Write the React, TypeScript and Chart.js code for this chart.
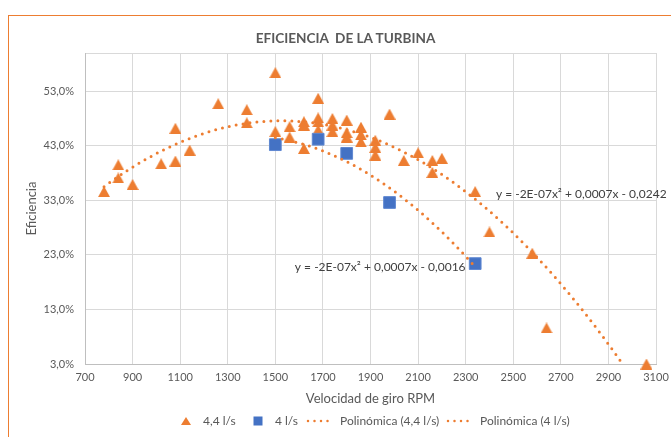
import React, { useEffect, useRef } from 'react';
import { Chart, registerables } from 'chart.js';

Chart.register(...registerables);

// ---------- data ----------
const rpm44 = [780, 840, 840, 900, 1020, 1080, 1080, 1140, 1260, 1380, 1380, 1500, 1500, 1560, 1560, 1620, 1620, 1620, 1680, 1680, 1680, 1680, 1740, 1740, 1740, 1800, 1800, 1800, 1860, 1860, 1860, 1920, 1920, 1920, 1980, 2040, 2100, 2160, 2160, 2200, 2340, 2400, 2580, 2640, 3060];
const eff44 = [0.346, 0.395, 0.371, 0.359, 0.397, 0.402, 0.462, 0.422, 0.507, 0.496, 0.472, 0.564, 0.456, 0.465, 0.446, 0.474, 0.468, 0.425, 0.517, 0.481, 0.474, 0.459, 0.480, 0.468, 0.456, 0.477, 0.454, 0.446, 0.464, 0.450, 0.437, 0.440, 0.427, 0.413, 0.488, 0.403, 0.417, 0.403, 0.381, 0.407, 0.346, 0.272, 0.233, 0.096, 0.030];

const rpm4 = [1500, 1680, 1800, 1980, 2340];
const eff4 = [0.432, 0.442, 0.416, 0.326, 0.214];

const xTicks = [700, 900, 1100, 1300, 1500, 1700, 1900, 2100, 2300, 2500, 2700, 2900, 3100];
const yTicks = [0.03, 0.13, 0.23, 0.33, 0.43, 0.53];
const yMax = 0.6;

const seriesNames = ['4,4 l/s', '4 l/s', 'Polinómica (4,4 l/s)', 'Polinómica (4 l/s)'];
const titleText = 'EFICIENCIA  DE LA TURBINA';
const xTitle = 'Velocidad de giro RPM';
const yTitle = 'Eficiencia';
const eqText44 = 'y = -2E-07x² + 0,0007x - 0,0242';
const eqText4 = 'y = -2E-07x² + 0,0007x - 0,0016';
// anchors (data units) for trendline equation labels
const eqAnchorX = [2427, 1582];
const eqAnchorY = [0.342, 0.208];

// ---------- helpers ----------
const ORANGE = '#ED7D31';
const BLUE = '#4472C4';
const TEXT = '#595959';
const FONT = 'Lato';

function fitQuadratic(xs: number[], ys: number[]): [number, number, number] {
  const s = 1000;
  let S0 = 0, S1 = 0, S2 = 0, S3 = 0, S4 = 0, T0 = 0, T1 = 0, T2 = 0;
  for (let i = 0; i < xs.length; i++) {
    const u = xs[i] / s;
    const y = ys[i];
    S0 += 1; S1 += u; S2 += u * u; S3 += u * u * u; S4 += u * u * u * u;
    T0 += y; T1 += u * y; T2 += u * u * y;
  }
  const det3 = (m: number[][]) =>
    m[0][0] * (m[1][1] * m[2][2] - m[1][2] * m[2][1]) -
    m[0][1] * (m[1][0] * m[2][2] - m[1][2] * m[2][0]) +
    m[0][2] * (m[1][0] * m[2][1] - m[1][1] * m[2][0]);
  const M = [[S4, S3, S2], [S3, S2, S1], [S2, S1, S0]];
  const R = [T2, T1, T0];
  const D = det3(M);
  const col = (k: number) => M.map((row, i) => row.map((v, j) => (j === k ? R[i] : v)));
  const A = det3(col(0)) / D;
  const B = det3(col(1)) / D;
  const C = det3(col(2)) / D;
  return [A / (s * s), B / s, C];
}

function trendPoints(xs: number[], ys: number[]) {
  const [a, b, c] = fitQuadratic(xs, ys);
  const lo = Math.min(...xs);
  const hi = Math.max(...xs);
  const pts: { x: number; y: number }[] = [];
  for (let x = lo; x < hi; x += 5) pts.push({ x, y: a * x * x + b * x + c });
  pts.push({ x: hi, y: a * hi * hi + b * hi + c });
  return pts;
}

function triangleImage(w: number, h: number) {
  const cv = document.createElement('canvas');
  cv.width = w;
  cv.height = h;
  const g = cv.getContext('2d')!;
  g.fillStyle = ORANGE;
  g.beginPath();
  g.moveTo(w / 2, 0);
  g.lineTo(w, h);
  g.lineTo(0, h);
  g.closePath();
  g.fill();
  return cv;
}

function fmtPct(v: number) {
  return (v * 100).toFixed(1).replace('.', ',') + '%';
}

const equationPlugin = {
  id: 'equationLabels',
  afterDatasetsDraw(chart: any) {
    const { ctx, scales } = chart;
    const texts = [eqText44, eqText4];
    ctx.save();
    ctx.font = `12px ${FONT}`;
    ctx.fillStyle = '#404040';
    ctx.textAlign = 'left';
    ctx.textBaseline = 'middle';
    texts.forEach((t, i) => {
      ctx.fillText(t, scales.x.getPixelForValue(eqAnchorX[i]), scales.y.getPixelForValue(eqAnchorY[i]));
    });
    ctx.restore();
  },
};

export default function App() {
  const ref = useRef<HTMLCanvasElement | null>(null);

  useEffect(() => {
    if (!ref.current) return;
    const tri = triangleImage(12, 11);
    const trendStyle = {
      type: 'line',
      borderColor: ORANGE,
      borderWidth: 3,
      borderDash: [0, 7],
      borderCapStyle: 'round',
      pointRadius: 0,
      fill: false,
      tension: 0,
      clip: 0,
      order: 0,
    };
    const chart = new Chart(ref.current, {
      type: 'scatter',
      data: {
        datasets: [
          { ...trendStyle, label: seriesNames[2], data: trendPoints(rpm44, eff44) } as any,
          { ...trendStyle, label: seriesNames[3], data: trendPoints(rpm4, eff4) } as any,
          {
            label: seriesNames[1],
            data: rpm4.map((x, i) => ({ x, y: eff4[i] })),
            pointStyle: 'rect',
            pointRadius: 8.3,
            backgroundColor: BLUE,
            borderColor: '#5F88D2',
            borderWidth: 1,
            clip: false,
            order: 1,
          } as any,
          {
            label: seriesNames[0],
            data: rpm44.map((x, i) => ({ x, y: eff44[i] })),
            pointStyle: tri,
            pointRadius: 7,
            backgroundColor: ORANGE,
            borderColor: ORANGE,
            clip: false,
            order: 2,
          } as any,
        ],
      },
      options: {
        animation: false,
        responsive: false,
        devicePixelRatio: 1,
        layout: { padding: { left: 0, right: 27, top: 37, bottom: 30 } },
        plugins: {
          legend: { display: false },
          tooltip: { enabled: false },
          title: { display: false },
        },
        scales: {
          x: {
            type: 'linear',
            min: xTicks[0],
            max: xTicks[xTicks.length - 1],
            afterBuildTicks: (s: any) => {
              s.ticks = xTicks.map((v) => ({ value: v }));
            },
            afterFit: (s: any) => {
              s.height = 43;
            },
            ticks: {
              color: TEXT,
              font: { family: FONT, size: 11 },
              padding: 7,
              maxRotation: 0,
              autoSkip: false,
              callback: (v: any) => String(v),
            },
            grid: { color: '#D9D9D9', drawTicks: false },
            border: { color: '#BFBFBF', width: 1 },
            title: {
              display: true,
              text: xTitle,
              color: TEXT,
              font: { family: FONT, size: 13 },
              padding: { top: 0, bottom: 0 },
            },
          },
          y: {
            type: 'linear',
            min: yTicks[0],
            max: yMax,
            afterBuildTicks: (s: any) => {
              s.ticks = [...yTicks, yMax].map((v) => ({ value: v }));
            },
            afterFit: (s: any) => {
              s.width = 76;
            },
            ticks: {
              color: TEXT,
              font: { family: FONT, size: 11 },
              padding: 11,
              autoSkip: false,
              callback: (v: any) => (v > yTicks[yTicks.length - 1] + 1e-9 ? '' : fmtPct(v)),
            },
            grid: { color: '#D9D9D9', drawTicks: false },
            border: { color: '#BFBFBF', width: 1 },
            title: {
              display: true,
              text: yTitle,
              color: TEXT,
              font: { family: FONT, size: 13 },
              padding: { top: 15.2, bottom: 0 },
            },
          },
        },
      } as any,
      plugins: [equationPlugin],
    });
    return () => chart.destroy();
  }, []);

  const legendText: React.CSSProperties = {
    position: 'absolute',
    top: 0,
    fontFamily: FONT,
    fontSize: 12,
    lineHeight: '16px',
    color: TEXT,
    whiteSpace: 'nowrap',
  };
  const icon: React.CSSProperties = { position: 'absolute', top: 0 };

  return (
    <div
      style={{
        position: 'fixed',
        left: 8,
        top: 15,
        width: 663,
        height: 422,
        borderLeft: `1px solid ${ORANGE}`,
        borderTop: `1px solid ${ORANGE}`,
        overflow: 'hidden',
        background: '#fff',
      }}
    >
      <canvas ref={ref} width={674} height={421} style={{ display: 'block', position: 'absolute', left: 0, top: 0 }} />
      <div
        style={{
          position: 'absolute',
          left: 0,
          top: 14,
          width: 673,
          textAlign: 'center',
          fontFamily: FONT,
          fontWeight: 'bold',
          fontSize: 13.6,
          lineHeight: '17px',
          color: TEXT,
          whiteSpace: 'pre',
        }}
      >
        {titleText}
      </div>
      <div style={{ position: 'absolute', left: 0, top: 397, width: 663, height: 16 }}>
        <svg style={{ ...icon, left: 172 }} width={10} height={16}>
          <polygon points="5,4 10,12 0,12" fill={ORANGE} />
        </svg>
        <span style={{ ...legendText, left: 194 }}>{seriesNames[0]}</span>
        <svg style={{ ...icon, left: 244 }} width={10} height={16}>
          <rect x={0.5} y={3.5} width={9} height={9} fill={BLUE} />
        </svg>
        <span style={{ ...legendText, left: 266 }}>{seriesNames[1]}</span>
        <svg style={{ ...icon, left: 297 }} width={30} height={16}>
          <line x1={2} y1={8} x2={28} y2={8} stroke={ORANGE} strokeWidth={2.5} strokeLinecap="round" strokeDasharray="0 6.5" />
        </svg>
        <span style={{ ...legendText, left: 331 }}>{seriesNames[2]}</span>
        <svg style={{ ...icon, left: 437 }} width={30} height={16}>
          <line x1={2} y1={8} x2={28} y2={8} stroke={ORANGE} strokeWidth={2.5} strokeLinecap="round" strokeDasharray="0 6.5" />
        </svg>
        <span style={{ ...legendText, left: 471 }}>{seriesNames[3]}</span>
      </div>
    </div>
  );
}
